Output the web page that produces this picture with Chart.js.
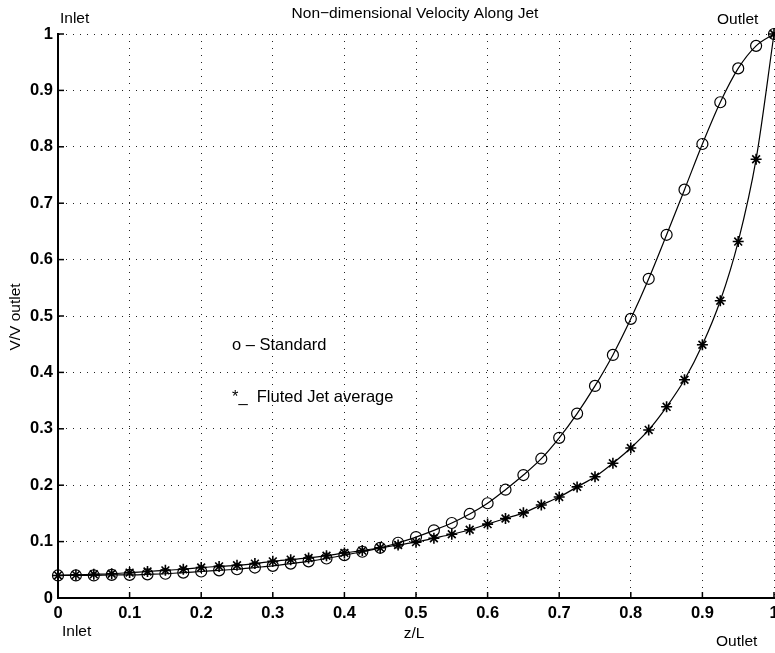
<!DOCTYPE html>
<html>
<head>
<meta charset="utf-8">
<script src="https://cdn.jsdelivr.net/npm/chart.js@4.4.1/dist/chart.umd.min.js"></script>
<style>
  html, body { margin: 0; padding: 0; background: #fff; }
  #wrap { width: 775px; height: 653px; }
</style>
</head>
<body>
<div id="wrap"><canvas id="chart" width="775" height="653"></canvas></div>
<script>
// data
const zL = [0, 0.025, 0.05, 0.075, 0.1, 0.125, 0.15, 0.175, 0.2, 0.225, 0.25, 0.275, 0.3, 0.325, 0.35, 0.375,
  0.4, 0.425, 0.45, 0.475, 0.5, 0.525, 0.55, 0.575, 0.6, 0.625, 0.65, 0.675, 0.7, 0.725, 0.75, 0.775,
  0.8, 0.825, 0.85, 0.875, 0.9, 0.925, 0.95, 0.975, 1];
const standard = [0.040, 0.040, 0.040, 0.041, 0.041, 0.042, 0.043, 0.045, 0.047, 0.049, 0.051, 0.054, 0.057, 0.061, 0.065, 0.070,
  0.076, 0.082, 0.089, 0.098, 0.108, 0.120, 0.133, 0.149, 0.168, 0.192, 0.218, 0.247, 0.284, 0.327, 0.376, 0.431,
  0.495, 0.566, 0.644, 0.724, 0.805, 0.879, 0.939, 0.979, 1.0];
const fluted = [0.040, 0.041, 0.042, 0.043, 0.045, 0.047, 0.049, 0.051, 0.054, 0.056, 0.058, 0.061, 0.065, 0.068, 0.071, 0.075,
  0.080, 0.084, 0.089, 0.094, 0.099, 0.106, 0.113, 0.121, 0.131, 0.141, 0.151, 0.165, 0.179, 0.197, 0.215, 0.239,
  0.266, 0.298, 0.339, 0.387, 0.449, 0.527, 0.632, 0.778, 1.0];
const xTicks = [0, 0.1, 0.2, 0.3, 0.4, 0.5, 0.6, 0.7, 0.8, 0.9, 1];
const yTicks = [0, 0.1, 0.2, 0.3, 0.4, 0.5, 0.6, 0.7, 0.8, 0.9, 1];

const FONT = '"Liberation Sans", Arial, sans-serif';

function pts(ys) {
  return zL.map((x, i) => ({ x: x, y: ys[i] }));
}

// inward tick marks + all the loose text of the figure
const extras = {
  id: 'extras',
  afterDraw(chart) {
    const ctx = chart.ctx;
    const xs = chart.scales.x, ys = chart.scales.y;
    const a = chart.chartArea;
    ctx.save();
    ctx.strokeStyle = '#000';
    ctx.lineWidth = 1.5;
    xTicks.forEach(v => {
      const px = xs.getPixelForValue(v);
      ctx.beginPath(); ctx.moveTo(px, a.bottom); ctx.lineTo(px, a.bottom - 6); ctx.stroke();
    });
    yTicks.forEach(v => {
      const py = ys.getPixelForValue(v);
      ctx.beginPath(); ctx.moveTo(a.left, py); ctx.lineTo(a.left + 6, py); ctx.stroke();
    });

    ctx.fillStyle = '#000';
    ctx.font = '15.5px ' + FONT;
    ctx.textBaseline = 'middle';
    ctx.textAlign = 'center';
    ctx.fillText('Non\u2212dimensional Velocity Along Jet', 415, 14);
    ctx.fillText('z/L', 414, 634);
    ctx.textAlign = 'left';
    ctx.fillText('Inlet', 60, 19);
    ctx.fillText('Outlet', 717, 20);
    ctx.fillText('Inlet', 62, 632);
    ctx.fillText('Outlet', 716, 642);

    // in-plot labels
    ctx.font = '16.5px ' + FONT;
    ctx.fillText('o \u2013 Standard', xs.getPixelForValue(0.243), ys.getPixelForValue(0.447));
    ctx.fillText('*_  Fluted Jet average', xs.getPixelForValue(0.243), ys.getPixelForValue(0.355));

    ctx.font = '15.5px ' + FONT;
    ctx.save();
    ctx.translate(16, 317);
    ctx.rotate(-Math.PI / 2);
    ctx.textAlign = 'center';
    ctx.fillText('V/V outlet', 0, 0);
    ctx.restore();
    ctx.restore();
  }
};

const ctx = document.getElementById('chart').getContext('2d');

new Chart(ctx, {
  type: 'line',
  data: {
    datasets: [
      {
        label: 'Standard',
        data: pts(standard),
        borderColor: '#000',
        borderWidth: 1.2,
        cubicInterpolationMode: 'monotone',
        pointStyle: 'circle',
        pointRadius: 5.5,
        pointBorderWidth: 1.2,
        pointBorderColor: '#000',
        pointBackgroundColor: 'rgba(0,0,0,0)',
        clip: false
      },
      {
        label: 'Fluted Jet average',
        data: pts(fluted),
        borderColor: '#000',
        borderWidth: 1.2,
        cubicInterpolationMode: 'monotone',
        pointStyle: 'star',
        pointRadius: 5.5,
        pointBorderWidth: 1.6,
        pointBorderColor: '#000',
        pointBackgroundColor: '#000',
        clip: false
      }
    ]
  },
  options: {
    responsive: false,
    animation: false,
    layout: { autoPadding: false, padding: { top: 34, right: 1, left: 0, bottom: 0 } },
    plugins: {
      legend: { display: false },
      title: { display: false },
      tooltip: { enabled: false }
    },
    scales: {
      x: {
        type: 'linear',
        min: 0,
        max: 1,
        afterBuildTicks: s => { s.ticks = xTicks.map(v => ({ value: v })); },
        afterFit: s => { s.height = 55; s.paddingLeft = 0; s.paddingRight = 0; },
        grid: { color: '#222', lineWidth: 1, drawTicks: false },
        border: { display: true, color: '#000', width: 2, dash: [1, 6] },
        ticks: {
          padding: 6,
          color: '#000',
          font: { family: FONT, size: 16.5, weight: 'bold' },
          callback: v => String(v),
          maxRotation: 0
        }
      },
      y: {
        type: 'linear',
        min: 0,
        max: 1,
        afterBuildTicks: s => { s.ticks = yTicks.map(v => ({ value: v })); },
        afterFit: s => { s.width = 58; },
        grid: { color: '#222', lineWidth: 1, drawTicks: false },
        border: { display: true, color: '#000', width: 2, dash: [1, 6] },
        ticks: {
          padding: 5,
          color: '#000',
          font: { family: FONT, size: 16.5, weight: 'bold' },
          callback: v => String(v)
        }
      }
    }
  },
  plugins: [extras]
});
</script>
</body>
</html>
